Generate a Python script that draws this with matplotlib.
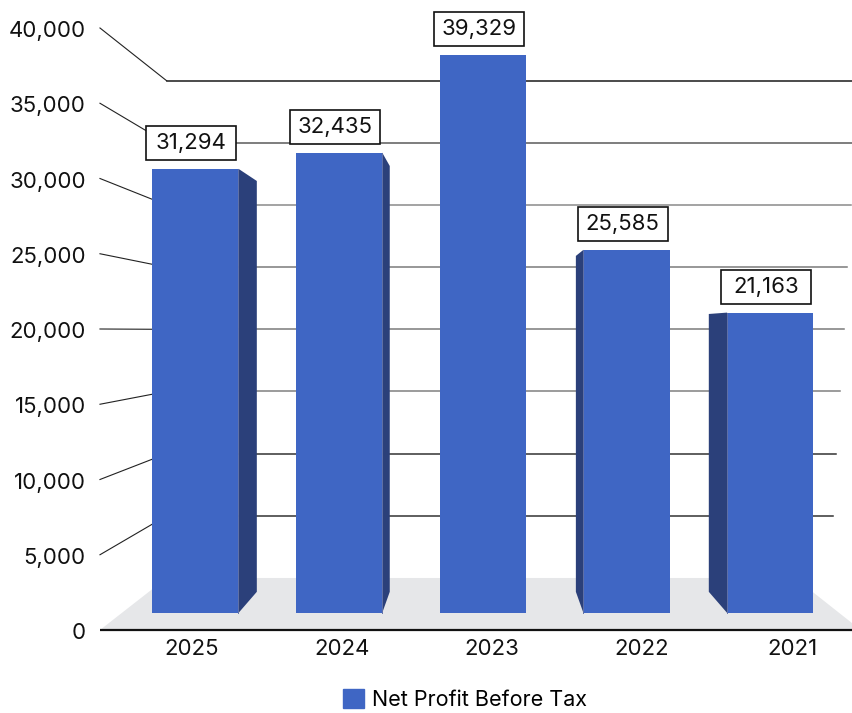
import numpy as np
import matplotlib
matplotlib.use("Agg")
import matplotlib.pyplot as plt
from matplotlib.patches import Polygon, Rectangle, Patch
from matplotlib import transforms

plt.rcParams['font.family'] = ['Inter', 'DejaVu Sans']

# data
years = ["2025", "2024", "2023", "2022", "2021"]
profit = [31294, 32435, 39329, 25585, 21163]
y_ticks = [0, 5000, 10000, 15000, 20000, 25000, 30000, 35000, 40000]

# colours of the back wall lines, 5,000 .. 40,000
grid_colors = ['#333333', '#333333', '#808080', '#7a7a7a', '#7a7a7a', '#8a8a8a', '#5a5a5a', '#1a1a1a']

BAR_FACE = '#3f66c4'
BAR_SIDE = '#2b407a'
FLOOR = '#e6e7e9'

# fake perspective: everything shrinks toward a vanishing point
VX, VY = 2.0, 19870
S_BACK = 0.826   # back wall / back of floor
S_BAR = 0.943    # front face of the columns
DEPTH = 0.925    # column depth, relative to its front face


def persp(x, y, s):
    return VX + s * (np.asarray(x) - VX), VY + s * (np.asarray(y) - VY)


fig = plt.figure(figsize=(8.53, 7.13), dpi=100)
ax = fig.add_axes([0, 0, 1, 1])
ax.set_xlim(-1.168, 4.429)
ax.set_ylim(-5515, 41860)
ax.axis('off')

# floor
fl, fr = -0.512, 4.48
blx, bly = persp(fl, 0, S_BACK)
brx, bry = persp(fr, 0, S_BACK)
ax.add_patch(Polygon([(fl, 0), (fr, 0), (brx, bry), (blx, bly)],
                     closed=True, facecolor=FLOOR, edgecolor='none', zorder=1))
ax.plot([fl, 4.5], [0, 0], color='#111111', lw=1.6, zorder=2, solid_capstyle='butt')

# back wall gridlines + the slanted tick lines
for v, c in zip(y_ticks[1:], grid_colors):
    bx, by = persp(fl, v, S_BACK)
    ax.plot([fl, bx], [v, by], color='#222222', lw=0.8, zorder=2)
    ax.plot([bx, 4.27 + 4.9e-6 * v], [by, by], color=c, lw=1.1, zorder=2)

for v in y_ticks:
    ax.text(-0.605, v - 200, f"{v:,}", ha='right', va='center', fontsize=16, color='#111111')

for i, yr in enumerate(years):
    ax.text(0.09 + 0.985 * i, -1262, yr, ha='center', va='center', fontsize=16, color='#111111')

# columns live in their own plane
ax2 = fig.add_axes([0, 0, 1, 1], zorder=1)
ax2.patch.set_visible(False)
ax2.axis('off')
ax2.set_xlim(*(VX + (np.array(ax.get_xlim()) - VX) / S_BAR))
ax2.set_ylim(*(VY + (np.array(ax.get_ylim()) - VY) / S_BAR))

xpos = np.arange(len(years))
half = 0.3
ax2.bar(xpos, profit, width=2 * half, color=BAR_FACE, zorder=3)

for i, v in zip(xpos, profit):
    if i == VX:
        continue
    xe = i + half if i < VX else i - half
    b0x, b0y = persp(xe, 0, DEPTH)
    b1x, b1y = persp(xe, v, DEPTH)
    ax2.add_patch(Polygon([(xe, 0), (xe, v), (b1x, b1y), (b0x, b0y)],
                          closed=True, facecolor=BAR_SIDE, edgecolor='none', zorder=2))
    ax2.plot([xe, xe], [0, v], color='#5f70a6', lw=0.7, zorder=4)

# value boxes above each column
for i, v in zip(xpos, profit):
    tr = fig.dpi_scale_trans + transforms.ScaledTranslation(i, v, ax2.transData)
    ax2.add_patch(Rectangle((-0.49, 0.09), 0.9, 0.34, transform=tr,
                            facecolor='white', edgecolor='#111111', lw=1.2, zorder=5))
    ax2.text(-0.04, 0.26, f"{v:,}", transform=tr, ha='center', va='center',
             fontsize=16, color='#111111', zorder=6)

fig.legend(handles=[Patch(color=BAR_FACE, label='Net Profit Before Tax')],
           loc='center', bbox_to_anchor=(0.545, 0.019), frameon=False,
           fontsize=15.5, handlelength=0.98, handleheight=0.98, handletextpad=0.4)

fig.savefig('out.png', dpi=100)
